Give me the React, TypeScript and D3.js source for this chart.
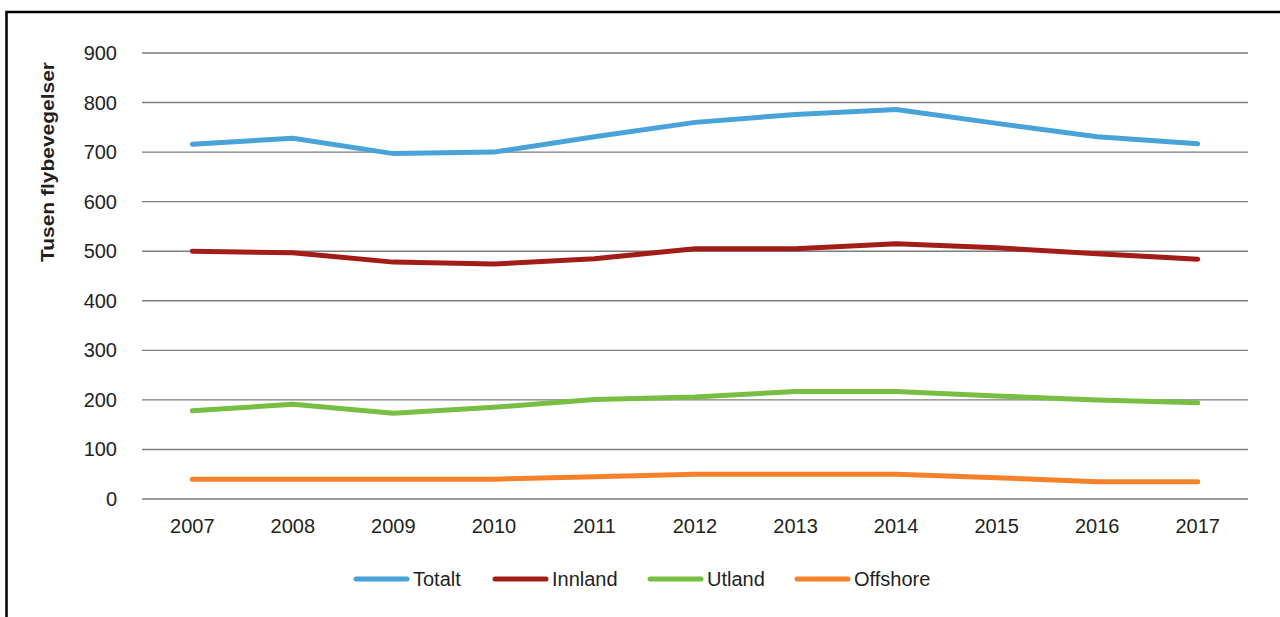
import React, { useRef, useEffect } from 'react';
import * as d3 from 'd3';

// År og verdier (tusen flybevegelser), lest av figuren
const years = ['2007', '2008', '2009', '2010', '2011', '2012', '2013', '2014', '2015', '2016', '2017'];
const totalt = [716, 728, 697, 700, 731, 760, 776, 786, 758, 731, 717];
const innland = [500, 497, 478, 474, 485, 505, 505, 515, 507, 495, 484];
const utland = [178, 191, 173, 185, 201, 206, 217, 217, 208, 200, 194];
const offshore = [40, 40, 40, 40, 45, 50, 50, 50, 43, 35, 35];
const yTicks = [0, 100, 200, 300, 400, 500, 600, 700, 800, 900];

const seriesNames = ['Totalt', 'Innland', 'Utland', 'Offshore'];
const seriesColors = ['#48a4d8', '#a21c18', '#78be43', '#f6812b'];

const W = 1280;
const H = 617;
const FONT = '"Liberation Sans", Arial, sans-serif';

const App = () => {
  const ref = useRef<SVGSVGElement>(null);

  useEffect(() => {
    const svg = d3.select(ref.current);
    svg.selectAll('*').remove();

    const margin = { top: 53, left: 142, right: 32, bottom: 118 };
    const plotW = W - margin.left - margin.right;
    const plotH = H - margin.top - margin.bottom;

    // ramme (bare venstre og topp synlig)
    svg.append('path')
      .attr('d', `M6.5,${H + 5} V12 H${W + 5}`)
      .attr('fill', 'none')
      .attr('stroke', '#000')
      .attr('stroke-width', 2.5);

    const g = svg.append('g').attr('transform', `translate(${margin.left},${margin.top})`);

    const x = d3.scaleBand().domain(years).range([0, plotW]);
    const y = d3.scaleLinear().domain([0, 900]).range([plotH, 0]);

    // rutenett
    g.selectAll('.grid')
      .data(yTicks)
      .enter()
      .append('line')
      .attr('x1', 0)
      .attr('x2', plotW)
      .attr('y1', d => y(d))
      .attr('y2', d => y(d))
      .attr('stroke', '#7d7d7d')
      .attr('stroke-width', 1.4);

    // y-etiketter
    g.selectAll('.ylab')
      .data(yTicks)
      .enter()
      .append('text')
      .attr('x', -25)
      .attr('y', d => y(d))
      .attr('dy', '0.35em')
      .attr('text-anchor', 'end')
      .attr('font-family', FONT)
      .attr('font-size', 20)
      .attr('fill', '#231f20')
      .text(d => d);

    // x-etiketter
    g.selectAll('.xlab')
      .data(years)
      .enter()
      .append('text')
      .attr('x', d => x(d)! + x.bandwidth() / 2)
      .attr('y', plotH + 34)
      .attr('text-anchor', 'middle')
      .attr('font-family', FONT)
      .attr('font-size', 20)
      .attr('fill', '#231f20')
      .text(d => d);

    // aksetittel
    svg.append('text')
      .attr('transform', 'translate(54,162) rotate(-90)')
      .attr('text-anchor', 'middle')
      .attr('font-family', FONT)
      .attr('font-size', 18)
      .attr('font-weight', 'bold')
      .attr('fill', '#231f20')
      .attr('textLength', 200)
      .attr('lengthAdjust', 'spacingAndGlyphs')
      .text('Tusen flybevegelser');

    const data = [totalt, innland, utland, offshore];
    const line = d3.line<number>()
      .x((_, i) => x(years[i])! + x.bandwidth() / 2)
      .y(d => y(d));

    // tegn bakerste serie først
    data.slice().reverse().forEach((vals, ri) => {
      const i = data.length - 1 - ri;
      g.append('path')
        .datum(vals)
        .attr('fill', 'none')
        .attr('stroke', seriesColors[i])
        .attr('stroke-width', 5)
        .attr('stroke-linecap', 'round')
        .attr('stroke-linejoin', 'round')
        .attr('d', line);
    });

    // forklaring
    const legendX = [356, 495, 650, 797];
    const legend = svg.append('g').attr('transform', 'translate(0,579)');
    seriesNames.forEach((name, i) => {
      legend.append('line')
        .attr('x1', legendX[i])
        .attr('x2', legendX[i] + 51)
        .attr('y1', 0)
        .attr('y2', 0)
        .attr('stroke', seriesColors[i])
        .attr('stroke-width', 5)
        .attr('stroke-linecap', 'round');
      legend.append('text')
        .attr('x', legendX[i] + 57)
        .attr('y', 0)
        .attr('dy', '0.36em')
        .attr('font-family', FONT)
        .attr('font-size', 20)
        .attr('fill', '#231f20')
        .text(name);
    });
  }, []);

  return (
    <svg
      ref={ref}
      width={W}
      height={H}
      style={{ position: 'absolute', left: 0, top: 0, background: '#fff' }}
    />
  );
};

export default App;
